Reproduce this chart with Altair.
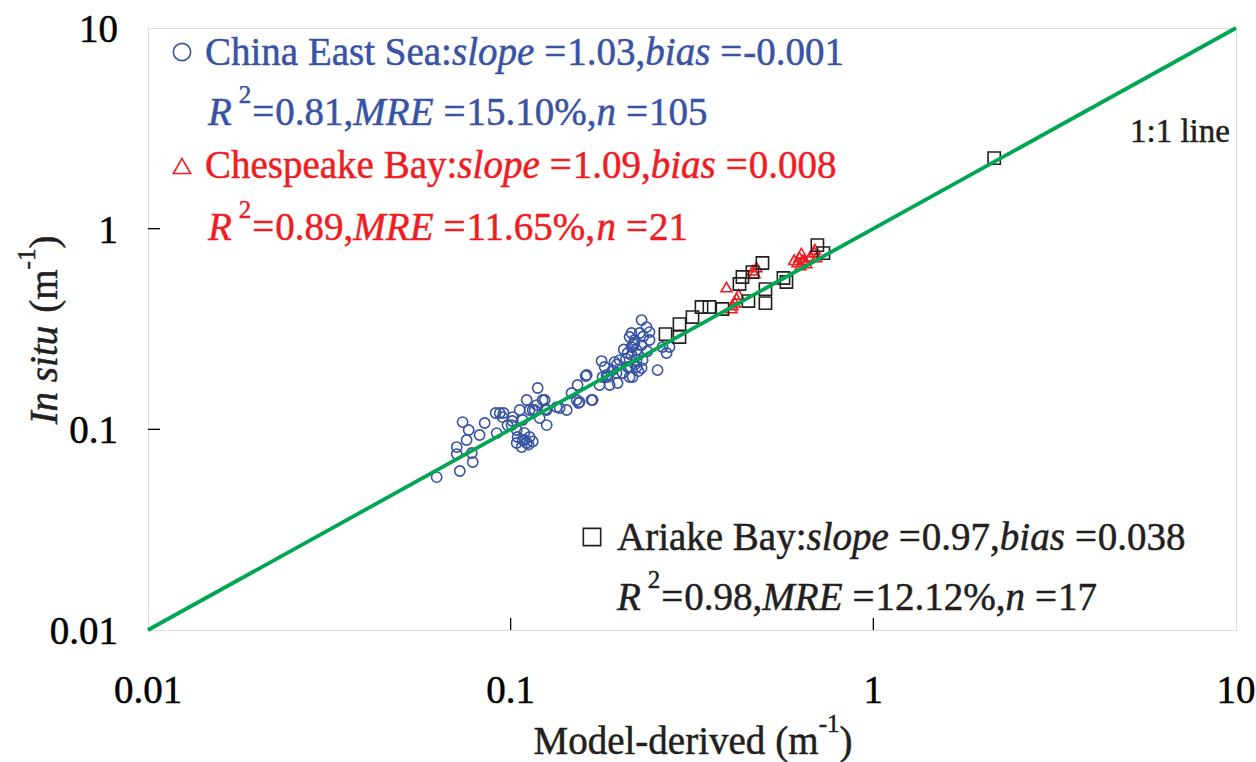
import altair as alt
import pandas as pd

# ---- data: model-derived vs in situ (m^-1) ----
ces_model = [0.0625, 0.0724, 0.0786, 0.0710, 0.0710, 0.0756, 0.0737, 0.0766, 0.0781, 0.0821,
             0.0848, 0.0915, 0.0909, 0.0933, 0.0956, 0.1013, 0.1006, 0.1039, 0.1045, 0.1039,
             0.1079, 0.1107, 0.1072, 0.1059, 0.1107, 0.1128, 0.1165, 0.1187, 0.1202, 0.1241,
             0.1257, 0.1257, 0.1339, 0.1365, 0.1427, 0.1472, 0.1520, 0.1539, 0.1529, 0.1609,
             0.1682, 0.1758, 0.1781, 0.1816, 0.1839, 0.1874, 0.1934, 0.1959, 0.1971, 0.1225,
             0.1249, 0.1150, 0.1079, 0.1093, 0.1128, 0.1549, 0.1620, 0.1671, 0.1850, 0.2035,
             0.2128, 0.2101, 0.2154, 0.2196, 0.2154, 0.2224, 0.2296, 0.2370, 0.2267, 0.2196,
             0.2128, 0.2154, 0.2101, 0.2224, 0.2296, 0.2128, 0.2224, 0.2296, 0.2168, 0.2311,
             0.2415, 0.2415, 0.1997, 0.1910, 0.1792, 0.2691, 0.2742, 0.2541, 0.2623, 0.2250,
             0.2180, 0.2320, 0.2080, 0.2250, 0.2380, 0.1150, 0.1120, 0.1090, 0.1010, 0.0950,
             0.1180, 0.2050, 0.1960, 0.2200, 0.0980]
ces_insitu = [0.0578, 0.0620, 0.0687, 0.0753, 0.0816, 0.0885, 0.1087, 0.0992, 0.0762, 0.0937,
              0.1075, 0.0958, 0.1206, 0.1206, 0.1206, 0.1151, 0.1050, 0.0992, 0.0916, 0.0855,
              0.0885, 0.0855, 0.0816, 0.1248, 0.1400, 0.1248, 0.1248, 0.1607, 0.1138, 0.1400,
              0.1050, 0.1248, 0.1291, 0.1277, 0.1248, 0.1517, 0.1400, 0.1352, 0.1663, 0.1844,
              0.1400, 0.1663, 0.2189, 0.2044, 0.1865, 0.1663, 0.2164, 0.1908, 0.1701, 0.1400,
              0.1262, 0.1248, 0.1113, 0.0885, 0.0916, 0.1368, 0.1865, 0.1400, 0.1822, 0.1908,
              0.1822, 0.2044, 0.2346, 0.2692, 0.3019, 0.2214, 0.3504, 0.3233, 0.3019, 0.2786,
              0.2884, 0.2571, 0.2400, 0.2484, 0.2630, 0.2044, 0.2044, 0.2020, 0.1822, 0.2214,
              0.2786, 0.3053, 0.2214, 0.1974, 0.1822, 0.2400, 0.2571, 0.1974, 0.2571, 0.2350,
              0.2650, 0.2900, 0.2250, 0.1950, 0.2450, 0.0870, 0.0840, 0.0960, 0.1100, 0.1150,
              0.1320, 0.2500, 0.2100, 0.2100, 0.1050]

cb_model = [0.3936, 0.4089, 0.4195, 0.4063, 0.4701, 0.4761, 0.6254, 0.6374, 0.6175, 0.6539,
            0.6878, 0.6966, 0.6333, 0.4150, 0.4650, 0.6300, 0.6450, 0.6700, 0.6900, 0.6050,
            0.4250]
cb_insitu = [0.5117, 0.4163, 0.4511, 0.4021, 0.6008, 0.6437, 0.7220, 0.6975, 0.6816, 0.6740,
             0.7643, 0.7220, 0.7556, 0.4300, 0.6200, 0.6600, 0.7000, 0.7300, 0.7900, 0.7000,
             0.4700]

ab_model = [0.2673, 0.2921, 0.2921, 0.3172, 0.3359, 0.3533, 0.3837, 0.4524, 0.5041, 0.5041,
            0.4275, 0.4357, 0.4642, 0.4946, 0.5651, 0.5759, 0.7010, 0.7283, 2.154]
ab_insitu = [0.2984, 0.3346, 0.2884, 0.3627, 0.4069, 0.4069, 0.3976, 0.4358, 0.4259, 0.5000,
             0.5297, 0.5741, 0.6077, 0.6740, 0.5675, 0.5420, 0.8285, 0.7556, 2.248]

one_to_one = [0.01, 10]
tick_values = [0.01, 0.1, 1, 10]
tick_labels = ["0.01", "0.1", "1", "10"]
inner_ticks = [0.1, 1]

BLUE = "#3953a4"
RED = "#ee1d23"
BLACK = "#231f20"
GREEN = "#00a651"
FONT = "Liberation Serif"

W, H = 1088, 602
FS = 39          # main text size
SUP = 25         # superscript size
SUP_RISE = 22    # superscript baseline lift
EQ_AFTER = 1     # spacing after "="

# Times New Roman advance widths (per 1000 em) for laying out mixed-style runs
ROMAN = {" ": 250, "%": 833, "(": 333, ")": 333, ",": 250, "-": 333, ".": 250, ":": 278,
         "=": 564, "A": 722, "B": 667, "C": 667, "E": 611, "M": 889, "R": 667, "S": 556,
         "a": 444, "b": 500, "c": 444, "d": 500, "e": 444, "h": 500, "i": 278, "k": 500,
         "l": 278, "m": 778, "n": 500, "o": 500, "p": 500, "r": 333, "s": 389, "t": 278,
         "u": 500, "v": 500, "y": 500}
ITALIC = {" ": 250, "I": 333, "M": 833, "R": 611, "E": 611, "a": 500, "b": 500, "e": 444,
          "i": 278, "l": 278, "n": 500, "o": 500, "p": 500, "s": 389, "t": 278, "u": 500}


def run_width(text, kind, size):
    table = ITALIC if kind == "i" else ROMAN
    return sum(table.get(c, 500) for c in text) * size / 1000.0


def layout(runs, x0, y0, color, size=FS, italic_gap=3, angle=0):
    """Place styled runs one after another; returns rows for text marks."""
    rows = []
    pos = 0.0
    prev = None
    for text, kind in runs:
        if kind == "gap":
            pos += float(text)
            continue
        s = SUP if kind == "sup" else size
        lift = SUP_RISE if kind == "sup" else 0
        if text == "=":
            pos += 7 if prev == "i" else 1
        if angle == 0:
            x, y = x0 + pos, y0 - lift
        else:  # text running bottom-to-top
            x, y = x0 - lift, y0 - pos
        rows.append({"t": text, "x": float(x), "y": float(y),
                     "kind": "r" if kind == "sup" else kind,
                     "c": color, "s": float(s), "a": float(angle)})
        pos += run_width(text, kind, s)
        if text == "=":
            pos += EQ_AFTER
        if kind == "i":
            pos += italic_gap
        prev = kind
    return rows, pos


def stats(r2, mre, n):
    return [("R", "i"), (4, "gap"), ("2", "sup"), ("=", "r"), (r2 + ",", "r"), ("MRE", "i"),
            ("=", "r"), (mre + ",", "r"), ("n", "i"), ("=", "r"), (n, "r")]


def header(name, slope, bias):
    return [(name + ":", "r"), ("slope", "i"), ("=", "r"), (slope + ",", "r"),
            ("bias", "i"), ("=", "r"), (bias, "r")]


rows = []
for runs, x0, y0, col, size in [
    (header("China East Sea", "1.03", "-0.001"), 57, 37, BLUE, FS),
    (stats("0.81", "15.10%", "105"), 60, 97, BLUE, FS),
    (header("Chespeake Bay", "1.09", "0.008"), 57, 150, RED, FS),
    (stats("0.89", "11.65%", "21"), 60, 212, RED, FS),
    (header("Ariake Bay", "0.97", "0.038"), 469, 522, BLACK, FS),
    (stats("0.98", "12.12%", "17"), 469, 582, BLACK, FS),
    ([("1:1 line", "r")], 982, 114, BLACK, 33),
]:
    r, _ = layout(runs, x0, y0, col, size=size)
    rows += r

# axis titles
xt_runs = [("Model-derived", "r"), (10, "gap"), ("(m", "r"), ("-1", "sup"), (")", "r")]
_, xw = layout(xt_runs, 0, 0, BLACK)
r, _ = layout(xt_runs, 545 - xw / 2, 726, BLACK)
rows += r

yt_runs = [("In situ", "i"), (10, "gap"), ("(m", "r"), ("-1", "sup"), (")", "r")]
_, yw = layout(yt_runs, 0, 0, BLACK, angle=270)
r, _ = layout(yt_runs, -91, 302 + yw / 2, BLACK, angle=270)
rows += r

text_df = pd.DataFrame(rows)

xscale = alt.Scale(type="log", domain=[0.01, 10], nice=False)
yscale = alt.Scale(type="log", domain=[0.01, 10], nice=False)


def X(field):
    return alt.X(field, scale=xscale, axis=None)


def Y(field):
    return alt.Y(field, scale=yscale, axis=None)


line = alt.Chart(pd.DataFrame({"model": one_to_one, "insitu": one_to_one})).mark_line(
    color=GREEN, strokeWidth=3.8
).encode(x=X("model:Q"), y=Y("insitu:Q"))


def scatter(mx, my, shape, color, size):
    return alt.Chart(pd.DataFrame({"model": mx, "insitu": my})).mark_point(
        shape=shape, filled=False, color=color, strokeWidth=1.6, size=size, opacity=1
    ).encode(x=X("model:Q"), y=Y("insitu:Q"))


ces = scatter(ces_model, ces_insitu, "circle", BLUE, 105)
cb = scatter(cb_model, cb_insitu, "triangle-up", RED, 120)
ab = scatter(ab_model, ab_insitu, "square", BLACK, 150)

# inward decade ticks
tick_in = pd.DataFrame({"v": inner_ticks})
xticks = alt.Chart(tick_in).mark_rule(color="black", strokeWidth=1.3).encode(
    x=X("v:Q"), y=alt.value(H), y2=alt.value(H - 12))
yticks = alt.Chart(tick_in).mark_rule(color="black", strokeWidth=1.3).encode(
    y=Y("v:Q"), x=alt.value(0), x2=alt.value(12))

# tick labels placed through the log scales
tick_df = pd.DataFrame({"v": tick_values, "lab": tick_labels})
xlabels = alt.Chart(tick_df).mark_text(
    align="center", baseline="alphabetic", font=FONT, fontSize=FS,
    color="black", stroke="black", strokeWidth=0.5
).encode(x=X("v:Q"), y=alt.value(H + 73), text="lab:N")
ylabels = alt.Chart(tick_df).mark_text(
    align="right", baseline="middle", dy=2, font=FONT, fontSize=FS,
    color="black", stroke="black", strokeWidth=0.5
).encode(y=Y("v:Q"), x=alt.value(-30), text="lab:N")

# legend glyphs
legend_df = pd.DataFrame({
    "shape": ["circle", "triangle-up", "square"],
    "c": [BLUE, RED, BLACK],
    "px": [34, 34, 444],
    "py": [24, 138, 509],
})
legend_marks = alt.Chart(legend_df).mark_point(filled=False, strokeWidth=1.6, size=300, opacity=1).encode(
    x=alt.X("px:Q", scale=None, axis=None), y=alt.Y("py:Q", scale=None, axis=None),
    shape=alt.Shape("shape:N", scale=None), color=alt.Color("c:N", scale=None))


def text_layer(kind, style):
    return alt.Chart(text_df).transform_filter(alt.datum.kind == kind).mark_text(
        font=FONT, fontStyle=style, align="left", baseline="alphabetic", strokeWidth=0.5
    ).encode(
        x=alt.X("x:Q", scale=None, axis=None), y=alt.Y("y:Q", scale=None, axis=None),
        text="t:N", color=alt.Color("c:N", scale=None), stroke=alt.Stroke("c:N", scale=None),
        size=alt.Size("s:Q", scale=None), angle=alt.Angle("a:Q", scale=None),
    )


texts = text_layer("r", "normal") + text_layer("i", "italic")

chart = alt.layer(
    ces, cb, ab, line, xticks, yticks, xlabels, ylabels, legend_marks, texts
).properties(
    width=W, height=H,
    autosize=alt.AutoSizeParams(type="none"),
    padding={"left": 148, "top": 28, "right": 20, "bottom": 132},
).configure_view(stroke="black", strokeWidth=2).configure(background="white")

chart.save("out.html", embed_options={"renderer": "svg", "actions": False})
